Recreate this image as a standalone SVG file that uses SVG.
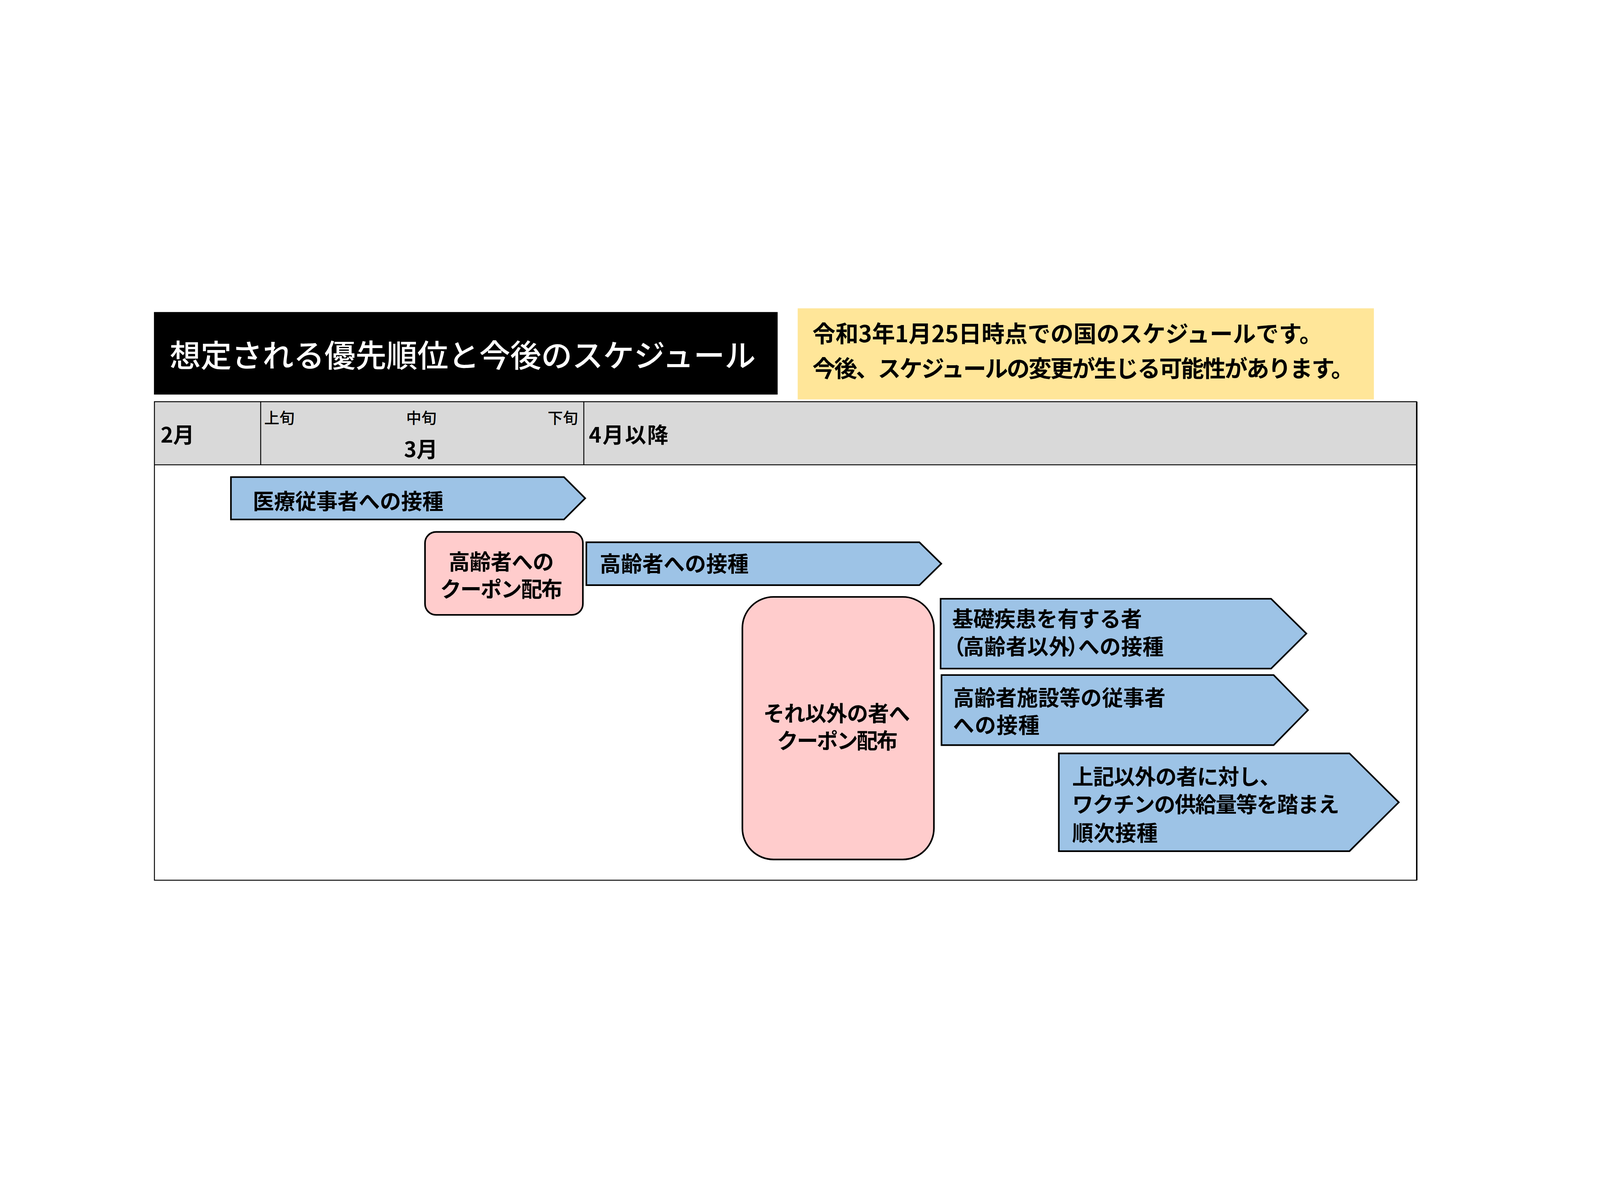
<svg xmlns="http://www.w3.org/2000/svg" width="6942" height="3059" viewBox="0 0 6942 3059">
  <style>
    svg:root { width: 100vw; height: 100vh; }
    text { font-family: "Noto Sans CJK JP", "Noto Sans", sans-serif; fill: #000; }
    .b { font-size: 92px; font-weight: 700; }
    .sub { font-size: 66px; font-weight: 500; }
    .note { font-size: 100px; font-weight: 700; }
    .title { font-size: 135px; font-weight: 500; fill: #fff; }
    .arrow { fill: #9DC3E6; stroke: #000; stroke-width: 7; stroke-linejoin: miter; }
    .pink { fill: #FFCCCC; stroke: #000; stroke-width: 7; }
    .grid { stroke: #000; stroke-width: 4; fill: none; }
  </style>
  <rect width="6942" height="3059" fill="#fff"/>

  <g id="title">
    <rect x="668" y="291" width="2706" height="358" fill="#000"/>
    <text class="title" x="736" y="528" textLength="2543" lengthAdjust="spacing">想定される優先順位と今後のスケジュール</text>
  </g>

  <g id="note">
    <rect x="3461" y="275" width="2500" height="395" fill="#FFE699"/>
    <text class="note" x="3525" y="422" textLength="2213" lengthAdjust="spacing">令和3年1月25日時点での国のスケジュールです。</text>
    <text class="note" x="3525" y="573" textLength="2350" lengthAdjust="spacing">今後、スケジュールの変更が生じる可能性があります。</text>
  </g>

  <g id="table">
    <rect x="670" y="680" width="5476" height="274" fill="#D9D9D9"/>
    <rect class="grid" x="670" y="680" width="5476" height="2076"/>
    <line class="grid" x1="670" y1="954" x2="6146" y2="954"/>
    <line class="grid" x1="1131" y1="680" x2="1131" y2="954"/>
    <line class="grid" x1="2533" y1="680" x2="2533" y2="954"/>
    <line x1="6147" y1="680" x2="6147" y2="2756" stroke="#000" stroke-width="6"/>
    <text class="b" x="697" y="857">2月</text>
    <text class="sub" x="1146" y="774">上旬</text>
    <text class="sub" x="1762" y="774">中旬</text>
    <text class="sub" x="2376" y="774">下旬</text>
    <text class="b" x="1753" y="921">3月</text>
    <text class="b" x="2555" y="857" textLength="345" lengthAdjust="spacing">4月以降</text>
  </g>

  <g id="connectors"></g>

  <g id="node-iryo">
    <path class="arrow" d="M1002,1007 L2447,1007 L2539,1099 L2447,1191 L1002,1191 Z"/>
    <text class="b" x="1097" y="1146" textLength="827" lengthAdjust="spacing">医療従事者への接種</text>
  </g>

  <g id="node-coupon-elderly">
    <rect class="pink" x="1844" y="1245" width="685" height="360" rx="48" ry="48"/>
    <text class="b" x="2175" y="1408" text-anchor="middle" textLength="457" lengthAdjust="spacing">高齢者への</text>
    <text class="b" x="2175" y="1527" text-anchor="middle" textLength="531" lengthAdjust="spacing">クーポン配布</text>
  </g>

  <g id="node-elderly">
    <path class="arrow" d="M2544,1290 L3989,1290 L4084,1383 L3989,1476 L2544,1476 Z"/>
    <text class="b" x="2602" y="1417" textLength="646" lengthAdjust="spacing">高齢者への接種</text>
  </g>

  <g id="node-coupon-others">
    <rect class="pink" x="3221" y="1527" width="831" height="1139" rx="135" ry="135"/>
    <text class="b" x="3630" y="2066" text-anchor="middle" textLength="637" lengthAdjust="spacing">それ以外の者へ</text>
    <text class="b" x="3633" y="2184" text-anchor="middle" textLength="524" lengthAdjust="spacing">クーポン配布</text>
  </g>

  <g id="node-kiso">
    <path class="arrow" d="M4081,1535 L5515,1535 L5668,1686 L5515,1838 L4081,1838 Z"/>
    <text class="b" x="4131" y="1656" textLength="824" lengthAdjust="spacing">基礎疾患を有する者</text>
    <text class="b" x="4094 4178 4271 4364 4457 4550 4630 4678 4771 4864 4957" y="1776">（高齢者以外）への接種</text>
  </g>

  <g id="node-shisetsu">
    <path class="arrow" d="M4085,1866 L5526,1866 L5675,2018 L5526,2170 L4085,2170 Z"/>
    <text class="b" x="4135" y="1998" textLength="922" lengthAdjust="spacing">高齢者施設等の従事者</text>
    <text class="b" x="4135" y="2116" textLength="375" lengthAdjust="spacing">への接種</text>
  </g>

  <g id="node-others">
    <path class="arrow" d="M4594,2206 L5855,2206 L6069,2418 L5855,2630 L4594,2630 Z"/>
    <text class="b" x="4652" y="2340" textLength="905" lengthAdjust="spacing">上記以外の者に対し、</text>
    <text class="b" x="4652" y="2460" textLength="1159" lengthAdjust="spacing">ワクチンの供給量等を踏まえ</text>
    <text class="b" x="4652" y="2584" textLength="371" lengthAdjust="spacing">順次接種</text>
  </g>
</svg>
